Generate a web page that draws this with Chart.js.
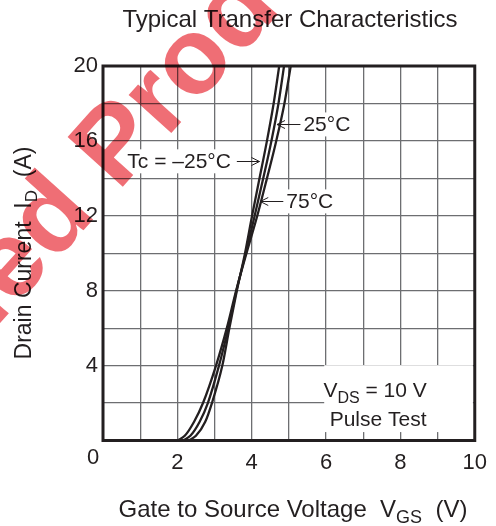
<!DOCTYPE html>
<html>
<head>
<meta charset="utf-8">
<script src="https://cdn.jsdelivr.net/npm/chart.js@4.4.0/dist/chart.umd.min.js"></script>
<style>
  html, body { margin: 0; padding: 0; background: #fff; }
  canvas { display: block; }
</style>
</head>
<body>
<canvas id="transfer" width="496" height="526"></canvas>
<script>
// values: drain current (A) vs gate-source voltage (V)
const drainCurrent = [0, 0.25, 1, 2, 4, 6, 8, 10, 12, 14, 16, 18, 20];
const vgsMinus25 = [2.3, 2.5, 2.75, 2.93, 3.21, 3.40, 3.60, 3.82, 4.01, 4.21, 4.41, 4.59, 4.74];
const vgs25 = [2.15, 2.35, 2.6, 2.82, 3.12, 3.37, 3.59, 3.84, 4.08, 4.31, 4.53, 4.72, 4.87];
const vgs75 = [2.0, 2.2, 2.45, 2.69, 3.04, 3.33, 3.58, 3.86, 4.15, 4.41, 4.66, 4.88, 5.05];
const xTickLabels = [2, 4, 6, 8, 10];
const yTickLabels = [4, 8, 12, 16, 20];

const FAMILY = '"Liberation Sans", Arial, Helvetica, sans-serif';
const INK = '#231f20';

// curve callouts, in data units (V, A)
const callouts = [
  { text: '25°C', tip: [4.68, 16.88], tail: 5.31, textX: 5.39, side: 'right' },
  { text: 'Tc = –25°C', tip: [4.21, 14.91], tail: 3.60, textX: 3.44, side: 'left' },
  { text: '75°C', tip: [4.23, 12.77], tail: 4.85, textX: 4.93, side: 'right' }
];

function pts(vs) {
  return vs.map((v, i) => ({ x: v, y: drainCurrent[i] }));
}

function richText(ctx, parts, x, y, size, align) {
  const big = size + 'px ' + FAMILY;
  const small = Math.round(size * 0.74) + 'px ' + FAMILY;
  let total = 0;
  parts.forEach(([t, sub]) => { ctx.font = sub ? small : big; total += ctx.measureText(t).width; });
  let cx = align === 'center' ? x - total / 2 : align === 'right' ? x - total : x;
  ctx.textAlign = 'left';
  ctx.textBaseline = 'alphabetic';
  parts.forEach(([t, sub]) => {
    ctx.font = sub ? small : big;
    ctx.fillText(t, cx, sub ? y + size * 0.27 : y);
    cx += ctx.measureText(t).width;
  });
  return total;
}

const overlay = {
  id: 'overlay',
  beforeDatasetsDraw(chart) {
    const { ctx, scales: { x, y } } = chart;
    ctx.save();
    ctx.fillStyle = '#fff';
    // test-condition box
    const bx0 = x.getPixelForValue(5.95), bx1 = x.getPixelForValue(9.95);
    const by0 = y.getPixelForValue(4.02), by1 = y.getPixelForValue(0.45);
    ctx.fillRect(bx0, by0, bx1 - bx0, by1 - by0);
    // label backgrounds
    ctx.font = '21px ' + FAMILY;
    callouts.forEach(c => {
      const w = ctx.measureText(c.text).width;
      const py = y.getPixelForValue(c.tip[1]);
      const tx = x.getPixelForValue(c.textX);
      const left = c.side === 'right' ? tx - 2 : tx - w - 2;
      ctx.fillRect(left, py - 12, w + 4, 24);
    });
    ctx.restore();
  },
  afterDatasetsDraw(chart) {
    const { ctx, chartArea: a, scales: { x, y } } = chart;
    ctx.save();
    // plot frame
    ctx.strokeStyle = INK;
    ctx.lineWidth = 3;
    ctx.strokeRect(a.left, a.top, a.right - a.left, a.bottom - a.top);

    ctx.fillStyle = INK;
    ctx.strokeStyle = INK;
    ctx.lineWidth = 1;
    // callouts with arrows
    callouts.forEach(c => {
      const py = Math.round(y.getPixelForValue(c.tip[1])) + 0.5;
      const tip = x.getPixelForValue(c.tip[0]);
      const tail = x.getPixelForValue(c.tail);
      const dir = tail > tip ? 1 : -1;
      ctx.beginPath();
      ctx.moveTo(tail, py);
      ctx.lineTo(tip, py);
      ctx.moveTo(tip + dir * 8, py - 4);
      ctx.lineTo(tip, py);
      ctx.lineTo(tip + dir * 8, py + 4);
      ctx.stroke();
      ctx.font = '21px ' + FAMILY;
      ctx.textBaseline = 'middle';
      ctx.textAlign = c.side === 'right' ? 'left' : 'right';
      ctx.fillText(c.text, x.getPixelForValue(c.textX), py + 1);
    });

    // test conditions
    const cx = x.getPixelForValue(7.4);
    richText(ctx, [['V', false], ['DS', true], [' = 10 V', false]], cx - 3, y.getPixelForValue(2.3), 21, 'center');
    richText(ctx, [['Pulse Test', false]], cx, y.getPixelForValue(0.77), 21, 'center');

    // shared origin label
    ctx.font = '22px ' + FAMILY;
    ctx.textAlign = 'center';
    ctx.textBaseline = 'middle';
    ctx.fillText('0', a.left - 10, a.bottom + 17);

    // titles
    richText(ctx, [['Typical Transfer Characteristics', false]], 290, 27, 24, 'center');
    richText(ctx, [['Gate to Source Voltage  V', false], ['GS', true], ['  (V)', false]], 293, 517, 24, 'center');
    ctx.translate(31, 253);
    ctx.rotate(-Math.PI / 2);
    richText(ctx, [['Drain Current  I', false], ['D', true], ['  (A)', false]], 0, 0, 23, 'center');
    ctx.restore();
  },
  afterDraw(chart) {
    // red "Discontinued Product" stamp across the upper left
    const { ctx } = chart;
    ctx.save();
    ctx.globalCompositeOperation = 'multiply';
    ctx.fillStyle = 'rgba(230, 35, 45, 0.66)';
    ctx.font = 'bold 108px ' + FAMILY;
    ctx.translate(118, 192);
    ctx.rotate(-48 * Math.PI / 180);
    ctx.textBaseline = 'alphabetic';
    ctx.textAlign = 'left';
    ctx.fillText('Product', 0, 0);
    ctx.textAlign = 'right';
    ctx.fillText('Discontinued ', 0, 0);
    ctx.restore();
  }
};

const curveStyle = {
  borderColor: INK,
  borderWidth: 2.3,
  pointRadius: 0,
  fill: false,
  cubicInterpolationMode: 'monotone'
};

new Chart(document.getElementById('transfer'), {
  type: 'line',
  data: {
    datasets: [
      Object.assign({ label: 'Tc = -25°C', data: pts(vgsMinus25) }, curveStyle),
      Object.assign({ label: '25°C', data: pts(vgs25) }, curveStyle),
      Object.assign({ label: '75°C', data: pts(vgs75) }, curveStyle)
    ]
  },
  options: {
    responsive: false,
    animation: false,
    layout: { padding: { top: 66, right: 18, left: 0, bottom: 0 } },
    plugins: { legend: { display: false }, tooltip: { enabled: false } },
    scales: {
      x: {
        type: 'linear',
        min: 0,
        max: 10,
        afterFit: s => { s.height = 85.5; },
        border: { display: false },
        grid: { color: '#6d6e71', lineWidth: 1.3, drawTicks: false },
        ticks: {
          stepSize: 1,
          autoSkip: false,
          maxRotation: 0,
          padding: 9,
          color: INK,
          font: { family: FAMILY, size: 22 },
          callback: v => xTickLabels.includes(v) ? String(v) : ''
        }
      },
      y: {
        type: 'linear',
        min: 0,
        max: 20,
        afterFit: s => { s.width = 103; },
        border: { display: false },
        grid: { color: '#6d6e71', lineWidth: 1.3, drawTicks: false },
        ticks: {
          stepSize: 2,
          autoSkip: false,
          padding: 5,
          color: INK,
          font: { family: FAMILY, size: 22 },
          callback: v => yTickLabels.includes(v) ? String(v) : ''
        }
      }
    }
  },
  plugins: [overlay]
});
</script>
</body>
</html>
